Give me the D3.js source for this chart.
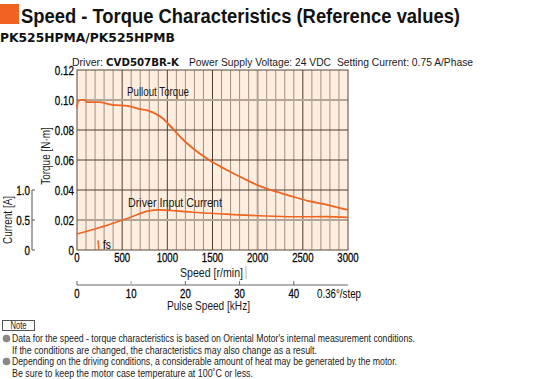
<!DOCTYPE html>
<html>
<head>
<meta charset="utf-8">
<script src="https://cdn.jsdelivr.net/npm/d3@7"></script>
<style>
body { margin: 0; background: #fff; }
svg { display: block; font-family: "Liberation Sans", Arial, sans-serif; }
</style>
</head>
<body>
<div id="chart"></div>
<script>
// values
var speedTicks = [0, 500, 1000, 1500, 2000, 2500, 3000]
var torqueTicks = [0, 0.02, 0.04, 0.06, 0.08, 0.10, 0.12]
var currentTicks = [0, 0.5, 1.0]
var pulseTicks = [0, 10, 20, 30, 40]

var pulloutSpeed  = [0, 11, 37, 74, 93, 111, 241, 389, 574, 685, 796, 870, 944, 1019, 1167, 1278, 1463, 1648, 1833, 2019, 2204, 2389, 2574, 2759, 3000]
var pulloutTorque = [0.095, 0.099, 0.100, 0.1003, 0.0997, 0.0986, 0.0986, 0.0968, 0.0959, 0.0941, 0.0928, 0.0908, 0.088, 0.0835, 0.074, 0.068, 0.060, 0.0537, 0.048, 0.0427, 0.0389, 0.0356, 0.0325, 0.0303, 0.0267]

var currentSpeed = [0, 352, 574, 796, 907, 1093, 1278, 1648, 2019, 2389, 2759, 3000]
var currentAmp   = [0.265, 0.42, 0.535, 0.652, 0.668, 0.652, 0.63, 0.598, 0.57, 0.553, 0.557, 0.543]

var notes = [
	"Data for the speed - torque characteristics is based on Oriental Motor's internal measurement conditions.",
	"If the conditions are changed, the characteristics may also change as a result.",
	"Depending on the driving conditions, a considerable amount of heat may be generated by the motor.",
	"Be sure to keep the motor case temperature at 100\u02daC or less."
]
var noteWidths = [403, 305, 385, 241]

var W = 536, H = 379
var orange = "#ee6420"
var svg = d3.select("#chart").append("svg").attr("width", W).attr("height", H)

var x = d3.scaleLinear().domain([0, 3000]).range([77, 348])
var y = d3.scaleLinear().domain([0, 0.12]).range([250, 70])
var yc = d3.scaleLinear().domain([0, 1]).range([250, 190])
var xp = d3.scaleLinear().domain([0, 50]).range([77, 348])

// narrow text: the reference uses a condensed face, so squeeze glyphs
function label(parent, px, py, str, o) {
	o = o || {}
	var t = parent.append("text")
		.attr("font-size", o.size || 12)
		.attr("fill", o.fill || "#1a1a1a")
		.attr("text-anchor", o.anchor || "start")
		.text(str)
	if (o.weight) t.attr("font-weight", o.weight)
	if (o.family) t.attr("font-family", o.family)
	if (o.heavy) t.attr("stroke", o.fill || "#1a1a1a").attr("stroke-width", 0.25)
	if (o.width) {
		t.attr("x", px).attr("y", py).attr("textLength", o.width).attr("lengthAdjust", "spacingAndGlyphs")
	} else {
		t.attr("transform", "translate(" + px + "," + py + ")" + (o.rotate ? " rotate(" + o.rotate + ")" : "") +
			" scale(" + (o.sx || 0.85) + ",1)")
	}
	return t
}

// title
svg.append("rect").attr("x", 0).attr("y", 4).attr("width", 19).attr("height", 20).attr("fill", orange)
label(svg, 21, 22.5, "Speed - Torque Characteristics (Reference values)", {size: 21, weight: "bold", width: 439, fill: "#111"})
label(svg, 0, 42, "PK525HPMA/PK525HPMB", {size: 13, weight: "bold", family: "DejaVu Sans", width: 175, fill: "#111"})

label(svg, 72, 66, "Driver:", {size: 11.5, width: 31})
label(svg, 106, 66, "CVD507BR-K", {size: 11, weight: "bold", family: "DejaVu Sans", width: 73, fill: "#111"})
label(svg, 189, 66, "Power Supply Voltage: 24 VDC", {size: 11.5, width: 142})
label(svg, 337, 66, "Setting Current: 0.75 A/Phase", {size: 11.5, width: 136})

// plot background and grid
svg.append("rect").attr("x", x(0)).attr("y", y(0.12)).attr("width", x(3000) - x(0)).attr("height", y(0) - y(0.12))
	.attr("fill", "#fdeee0")

var minor = d3.range(100, 3000, 100).filter(function(d) { return d % 500 != 0 })
svg.append("g").selectAll("line").data(minor).join("line")
	.attr("x1", x).attr("x2", x).attr("y1", y(0.12)).attr("y2", y(0))
	.attr("stroke", "#8c7565").attr("stroke-width", 0.8)
svg.append("g").selectAll("line").data([500, 1000, 1500, 2000, 2500]).join("line")
	.attr("x1", x).attr("x2", x).attr("y1", y(0.12)).attr("y2", y(0))
	.attr("stroke", function(d) { return d == 2000 ? "#b3a699" : "#4d3d30" })
	.attr("stroke-width", function(d) { return d == 2000 ? 2 : 1 })
svg.append("g").selectAll("line").data([0.02, 0.04, 0.06, 0.08, 0.10]).join("line")
	.attr("x1", x(0)).attr("x2", x(3000)).attr("y1", y).attr("y2", y)
	.attr("stroke", function(d) { return (d == 0.02 || d == 0.10) ? "#b3a699" : "#4d3d30" })
	.attr("stroke-width", function(d) { return (d == 0.02 || d == 0.10) ? 2 : 1 })
svg.append("rect").attr("x", x(0)).attr("y", y(0.12)).attr("width", x(3000) - x(0)).attr("height", y(0) - y(0.12))
	.attr("fill", "none").attr("stroke", "#5a4636").attr("stroke-width", 1)

// torque axis labels
var ta = svg.append("g")
torqueTicks.forEach(function(d) {
	label(ta, 74, y(d) + 4.5, d == 0 ? "0" : d.toFixed(2), {size: 12, anchor: "end", sx: 0.82, fill: "#000", heavy: true})
})
label(svg, 50, 156, "Torque [N\u00b7m]", {size: 12, anchor: "middle", rotate: -90, sx: 0.83})

// current axis
var ca = svg.append("g")
ca.append("line").attr("x1", 32).attr("x2", 32).attr("y1", yc(1)).attr("y2", yc(0)).attr("stroke", "#555")
ca.selectAll("line.t").data(currentTicks).join("line").attr("class", "t")
	.attr("x1", 32).attr("x2", 35).attr("y1", yc).attr("y2", yc).attr("stroke", "#555")
currentTicks.forEach(function(d) {
	label(ca, 30, yc(d) + 4.5, d == 0 ? "0" : d.toFixed(1), {size: 12, anchor: "end", sx: 0.82, fill: "#000", heavy: true})
})
label(svg, 12, 220, "Current [A]", {size: 12, anchor: "middle", rotate: -90, sx: 0.83})

// speed axis labels
var sa = svg.append("g")
speedTicks.forEach(function(d) {
	label(sa, x(d), 261.5, String(d), {size: 12, anchor: "middle", sx: 0.8, fill: "#000", heavy: true})
})
label(svg, 211.5, 277, "Speed [r/min]", {size: 12, anchor: "middle", width: 63})
svg.append("line").attr("x1", 246).attr("x2", 246).attr("y1", 266).attr("y2", 279).attr("stroke", "#ccc").attr("stroke-width", 1.5)

// pulse speed axis
var pa = svg.append("g")
pa.append("line").attr("x1", xp(0)).attr("x2", xp(50)).attr("y1", 285).attr("y2", 285).attr("stroke", "#666")
pa.selectAll("line.t").data(pulseTicks).join("line").attr("class", "t")
	.attr("x1", xp).attr("x2", xp).attr("y1", 285).attr("y2", 281)
	.attr("stroke", function(d) { return d == 10 ? "#bbb" : "#666" })
	.attr("stroke-width", function(d) { return d == 10 ? 1.5 : 1 })
pulseTicks.forEach(function(d) {
	label(pa, xp(d), 297.5, String(d), {size: 12, anchor: "middle", sx: 0.8, fill: "#000", heavy: true})
})
label(pa, 339, 297.5, "0.36\u00b0/step", {size: 12, anchor: "middle", width: 44, fill: "#000"})
label(svg, 208.5, 310, "Pulse Speed [kHz]", {size: 12, anchor: "middle", width: 83})

// curves
var torqueLine = d3.line()
	.x(function(d, i) { return x(pulloutSpeed[i]) })
	.y(function(d) { return y(d) })
	.curve(d3.curveMonotoneX)
svg.append("path").attr("d", torqueLine(pulloutTorque))
	.attr("fill", "none").attr("stroke", orange).attr("stroke-width", 1.8)

var currentLine = d3.line()
	.x(function(d, i) { return x(currentSpeed[i]) })
	.y(function(d) { return yc(d) })
	.curve(d3.curveMonotoneX)
svg.append("path").attr("d", currentLine(currentAmp))
	.attr("fill", "none").attr("stroke", orange).attr("stroke-width", 1.6)

// fs marker
svg.append("line").attr("x1", x(232)).attr("x2", x(242)).attr("y1", y(0.0065)).attr("y2", y(0))
	.attr("stroke", orange).attr("stroke-width", 1.5)
label(svg, 103, 249, "fs", {size: 12, sx: 0.85, fill: "#000"})

label(svg, 158, 96, "Pullout Torque", {size: 12, anchor: "middle", width: 62})
label(svg, 175, 207, "Driver Input Current", {size: 12, anchor: "middle", width: 94})

// note
svg.append("rect").attr("x", 2.5).attr("y", 320.5).attr("width", 32).attr("height", 10)
	.attr("fill", "#fff").attr("stroke", "#555")
label(svg, 18.5, 329, "Note", {size: 10, anchor: "middle", width: 16})
var noteY = [342, 353.5, 365, 376.5]
notes.forEach(function(d, i) {
	label(svg, 12, noteY[i], d, {size: 10, width: noteWidths[i], fill: "#222"})
})
svg.append("g").selectAll("circle").data([0, 2]).join("circle")
	.attr("cx", 6.5).attr("cy", function(i) { return noteY[i] - 3.5 }).attr("r", 3.8)
	.attr("fill", "#888")
</script>
</body>
</html>
